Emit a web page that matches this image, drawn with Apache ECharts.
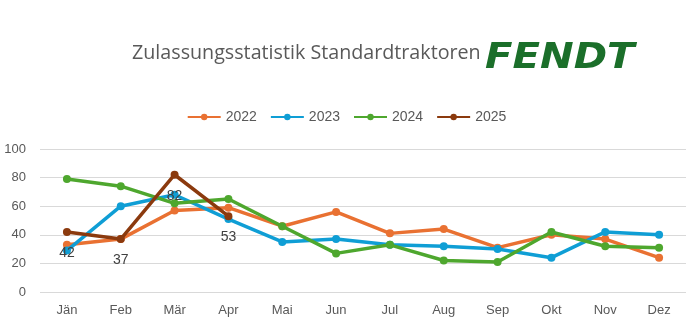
<!DOCTYPE html>
<html>
<head>
<meta charset="utf-8">
<script src="https://cdn.jsdelivr.net/npm/echarts@6/dist/echarts.min.js"></script>
<style>
html,body{margin:0;padding:0;background:#fff;}
#chart{width:693px;height:328px;}
</style>
</head>
<body>
<div id="chart"></div>
<script>
var months = ['Jän','Feb','Mär','Apr','Mai','Jun','Jul','Aug','Sep','Okt','Nov','Dez'];
var s2022 = [33, 37, 57, 59, 46, 56, 41, 44, 31, 40, 37, 24];
var s2023 = [29, 60, 68, 51, 35, 37, 33, 32, 30, 24, 42, 40];
var s2024 = [79, 74, 62, 65, 46, 27, 33, 22, 21, 42, 32, 31];
var s2025 = [42, 37, 82, 53];
var yTicks = [0, 20, 40, 60, 80, 100];

var chart = echarts.init(document.getElementById('chart'), null, {renderer:'canvas'});
function ser(name, data, color, z, labels){
  return {
    name: name, type: 'line', data: data, z: z,
    symbol: 'circle', symbolSize: 8,
    lineStyle: {width: 3.5, color: color},
    itemStyle: {color: color},
    label: labels ? {show: true, position: 'bottom', distance: 10, color: '#404040', fontSize: 14, fontFamily: 'Liberation Sans'} : {show: false},
    animation: false
  };
}
chart.setOption({
  animation: false,
  textStyle: {fontFamily: 'Liberation Sans'},
  title: {
    text: 'Zulassungsstatistik Standardtraktoren',
    left: 127, top: 38,
    textStyle: {fontSize: 19.7, fontWeight: 'normal', color: '#595959', fontFamily: 'Open Sans'}
  },
  graphic: [{
    type: 'text', x: 485, y: 41, scaleX: 1.15,
    style: {
      text: 'FENDT', fontFamily: 'DejaVu Sans', fontSize: 35, fontWeight: 'bold', fontStyle: 'italic',
      fill: '#1b6f2a', textVerticalAlign: 'top'
    }
  }],
  legend: {
    top: 105, left: 'center',
    itemWidth: 33, itemHeight: 8, itemGap: 13,
    textStyle: {fontSize: 14, color: '#595959', fontFamily: 'Liberation Sans'},
    data: ['2022','2023','2024','2025']
  },
  grid: {left: 40, right: 7, top: 149, bottom: 36},
  xAxis: {
    type: 'category', data: months, boundaryGap: true,
    axisLine: {show: false}, axisTick: {show: false},
    axisLabel: {color: '#595959', fontSize: 13, margin: 12}
  },
  yAxis: {
    type: 'value', min: yTicks[0], max: yTicks[yTicks.length-1], interval: 20,
    axisLine: {show: false}, axisTick: {show: false},
    axisLabel: {color: '#595959', fontSize: 13, margin: 14},
    splitLine: {lineStyle: {color: '#d9d9d9', width: 1}}
  },
  series: [
    ser('2022', s2022, '#E97132', 2, false),
    ser('2023', s2023, '#0F9ED5', 3, false),
    ser('2024', s2024, '#4EA72E', 4, false),
    ser('2025', s2025, '#8B3A0E', 5, true)
  ]
});
</script>
</body>
</html>
